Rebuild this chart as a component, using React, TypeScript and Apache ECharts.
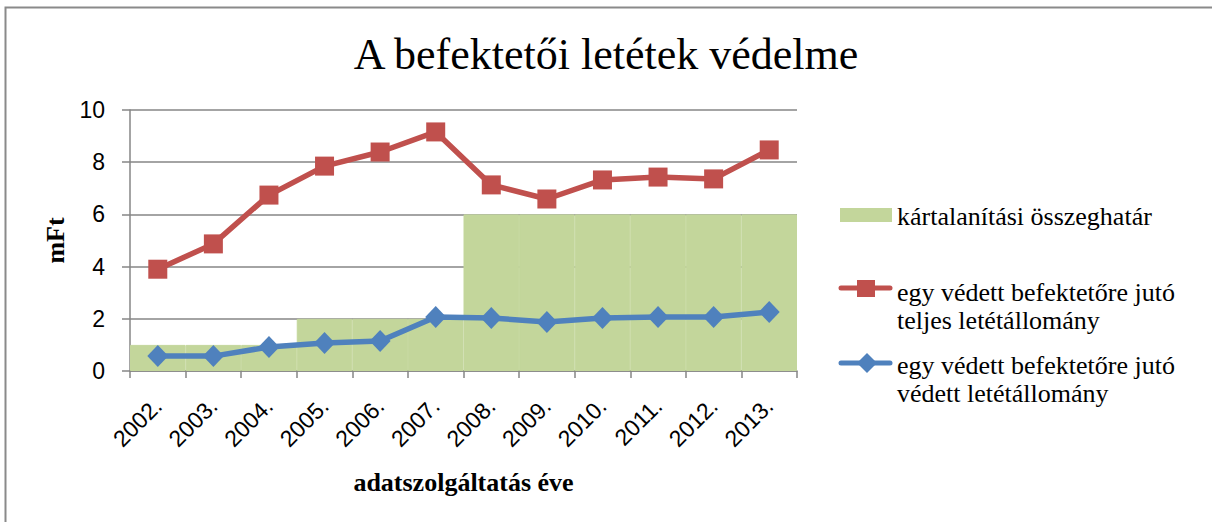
import React, { useEffect, useRef } from "react";
import * as echarts from "echarts";

const title = "A befektetői letétek védelme";
const years = ["2002.", "2003.", "2004.", "2005.", "2006.", "2007.", "2008.", "2009.", "2010.", "2011.", "2012.", "2013."];
const limitName = "kártalanítási összeghatár";
const totalName = "egy védett befektetőre jutó\nteljes letétállomány";
const protectedName = "egy védett befektetőre jutó\nvédett letétállomány";
const limitValues = [1, 1, 1, 2, 2, 2, 6, 6, 6, 6, 6, 6];
const totalValues = [3.9, 4.87, 6.74, 7.85, 8.39, 9.16, 7.13, 6.59, 7.32, 7.43, 7.36, 8.47];
const protectedValues = [0.57, 0.57, 0.92, 1.07, 1.15, 2.07, 2.03, 1.88, 2.03, 2.07, 2.07, 2.26];
const yTicks = { min: 0, max: 10, interval: 2 };
const yName = "mFt";
const xName = "adatszolgáltatás éve";

const GREEN = "#C3D69B";
const RED = "#C0504D";
const BLUE = "#4F81BD";
const GRID = "#868686";
const SERIF = "'Liberation Serif', 'Times New Roman', serif";
const SANS = "'Liberation Sans', Arial, sans-serif";

export default function App() {
  const ref = useRef<HTMLDivElement>(null);
  useEffect(() => {
    document.body.style.margin = "0";
    const chart = echarts.init(ref.current!, null, { renderer: "svg" });
    const legendText = (x: number, y: number, text: string) => ({
      type: "text",
      x,
      y,
      style: {
        text,
        fontFamily: SERIF,
        fontSize: 26,
        fill: "#000",
        verticalAlign: "middle",
        lineHeight: 28,
      },
    });
    chart.setOption({
      animation: false,
      backgroundColor: "#fff",
      title: {
        text: title,
        left: "center",
        top: 27,
        textStyle: { fontFamily: SERIF, fontSize: 44, fontWeight: "normal", color: "#000" },
      },
      grid: { left: 130, right: 415, top: 110, bottom: 151 },
      xAxis: {
        type: "category",
        data: years,
        boundaryGap: true,
        name: xName,
        nameLocation: "middle",
        nameGap: 98,
        nameTextStyle: { fontFamily: SERIF, fontSize: 26, fontWeight: "bold", color: "#000" },
        axisLine: { lineStyle: { color: GRID, width: 1.5 } },
        axisTick: { show: true, length: 7, lineStyle: { color: GRID, width: 1.5 } },
        axisLabel: { rotate: 45, fontFamily: SANS, fontSize: 23, color: "#000", margin: 31, interval: 0 },
        splitLine: { show: false },
      },
      yAxis: {
        type: "value",
        min: yTicks.min,
        max: yTicks.max,
        interval: yTicks.interval,
        name: yName,
        nameLocation: "middle",
        nameGap: 60,
        nameTextStyle: { fontFamily: SERIF, fontSize: 26, fontWeight: "bold", color: "#000" },
        axisLine: { show: true, lineStyle: { color: GRID, width: 1.5 } },
        axisTick: { show: true, length: 8, lineStyle: { color: GRID, width: 1.5 } },
        axisLabel: { fontFamily: SANS, fontSize: 23, color: "#000", margin: 25 },
        splitLine: { lineStyle: { color: GRID, width: 1.5 } },
      },
      series: [
        {
          name: limitName,
          type: "bar",
          data: limitValues,
          barCategoryGap: 0,
          barGap: 0,
          itemStyle: { color: GREEN, borderColor: GREEN, borderWidth: 1 },
          silent: true,
        },
        {
          name: totalName,
          type: "line",
          data: totalValues,
          symbol: "rect",
          symbolSize: 19,
          lineStyle: { color: RED, width: 5.5 },
          itemStyle: { color: RED },
          z: 3,
        },
        {
          name: protectedName,
          type: "line",
          data: protectedValues,
          symbol: "diamond",
          symbolSize: [21, 22],
          lineStyle: { color: BLUE, width: 5.5 },
          itemStyle: { color: BLUE },
          z: 4,
        },
      ],
      graphic: [
        {
          type: "rect",
          shape: { x: 5.5, y: 7.5, width: 1230, height: 540 },
          style: { fill: "none", stroke: "#8a8a8a", lineWidth: 2 },
          silent: true,
        },
        { type: "rect", shape: { x: 840, y: 208, width: 52, height: 14 }, style: { fill: GREEN } },
        legendText(897, 216, limitName),
        {
          type: "line",
          shape: { x1: 841, y1: 288, x2: 890, y2: 288 },
          style: { stroke: RED, lineWidth: 5, lineCap: "round" },
        },
        { type: "rect", shape: { x: 857, y: 280, width: 18, height: 17 }, style: { fill: RED } },
        legendText(897, 306, totalName),
        {
          type: "line",
          shape: { x1: 841, y1: 363, x2: 890, y2: 363 },
          style: { stroke: BLUE, lineWidth: 5, lineCap: "round" },
        },
        {
          type: "polygon",
          shape: { points: [[867, 353], [877, 363], [867, 373], [857, 363]] },
          style: { fill: BLUE },
        },
        legendText(897, 379, protectedName),
      ],
    });
    return () => chart.dispose();
  }, []);
  return <div ref={ref} style={{ width: 1212, height: 522 }} />;
}
